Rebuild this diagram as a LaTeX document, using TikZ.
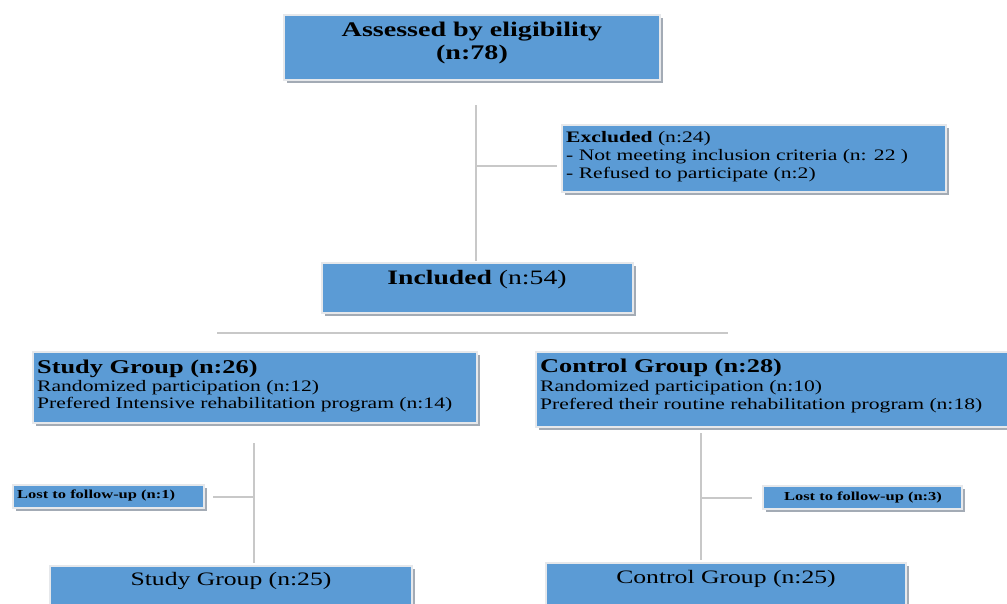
\documentclass[tikz,border=0pt]{standalone}
\usepackage{fontspec}
\setmainfont{Liberation Serif}[FakeStretch=1.35]
\usetikzlibrary{shadows}
\definecolor{boxblue}{HTML}{5B9BD5}
\definecolor{shadowgray}{HTML}{A3ABB5}
\definecolor{linegray}{HTML}{C8C8C8}
\definecolor{rimgray}{HTML}{E6E8EB}
\begin{document}
\begin{tikzpicture}[x=1pt,y=-1pt,
  bluebox/.style={rectangle, fill=boxblue, draw=rimgray, line width=1.5pt, inner sep=0pt,
     drop shadow={shadow xshift=3pt, shadow yshift=-3pt, fill=shadowgray, opacity=1}},
  txt/.style={inner sep=0pt, text=black},
  conn/.style={draw=linegray, line width=1.4pt}]
\useasboundingbox (0,0) rectangle (1007,603);
% boxes
\node[bluebox, minimum width=376pt, minimum height=65pt] (top) at (472,47.5) {};
\node[bluebox, minimum width=384pt, minimum height=67pt] (excl) at (754,158.5) {};
\node[bluebox, minimum width=311pt, minimum height=50pt] (incl) at (477.5,288) {};
\node[bluebox, minimum width=444pt, minimum height=71pt] (study) at (255,387.5) {};
\node[bluebox, minimum width=490pt, minimum height=75pt] (control) at (781,389.5) {};
\node[bluebox, minimum width=191pt, minimum height=23pt] (lost1) at (108.5,496.5) {};
\node[bluebox, minimum width=199pt, minimum height=23pt] (lost2) at (862.5,497.5) {};
\node[bluebox, minimum width=362pt, minimum height=60pt] (sg25) at (231,596) {};
\node[bluebox, minimum width=360pt, minimum height=60pt] (cg25) at (726,593) {};
% texts
\node[txt, anchor=base] (t1) at (472,36) {\fontsize{20.8}{22}\selectfont\bfseries Assessed by eligibility};
\node[txt, anchor=base] (t2) at (472,59) {\fontsize{20.8}{22}\selectfont\bfseries (n:78)};
\node[txt, anchor=base west] (e1) at (566,142) {\fontsize{16}{18}\selectfont\textbf{Excluded} (n:24)};
\node[txt, anchor=base west] (e2) at (566,160) {\fontsize{16}{18}\selectfont - Not meeting inclusion criteria (n: 22 )};
\node[txt, anchor=base west] (e3) at (566,178) {\fontsize{16}{18}\selectfont - Refused to participate (n:2)};
\node[txt, anchor=base] (i1) at (477,284) {\fontsize{20.5}{22}\selectfont\textbf{Included} (n:54)};
\node[txt, anchor=base west] (s1) at (37,373) {\fontsize{19.5}{21}\selectfont\bfseries Study Group (n:26)};
\node[txt, anchor=base west] (s2) at (37,391) {\fontsize{16}{18}\selectfont Randomized participation (n:12)};
\node[txt, anchor=base west] (s3) at (37,408) {\fontsize{16}{18}\selectfont Prefered Intensive rehabilitation program (n:14)};
\node[txt, anchor=base west] (c1) at (540,372) {\fontsize{19.5}{21}\selectfont\bfseries Control Group (n:28)};
\node[txt, anchor=base west] (c2) at (540,391) {\fontsize{16}{18}\selectfont Randomized participation (n:10)};
\node[txt, anchor=base west] (c3) at (540,409) {\fontsize{16}{18}\selectfont Prefered their routine rehabilitation program (n:18)};
\node[txt, anchor=base west] (l1) at (17,498) {\fontsize{12.2}{14}\selectfont\bfseries Lost to follow-up (n:1)};
\node[txt, anchor=base] (l2) at (863,500) {\fontsize{12.2}{14}\selectfont\bfseries Lost to follow-up (n:3)};
\node[txt, anchor=base] (g1) at (231,585) {\fontsize{19}{21}\selectfont Study Group (n:25)};
\node[txt, anchor=base] (g2) at (726,583) {\fontsize{19}{21}\selectfont Control Group (n:25)};
% connector coordinates
\coordinate (v1a) at (476,105);
\coordinate (v1b) at (476,261);
\coordinate (h1a) at (476,166);
\coordinate (h1b) at (557,166);
\coordinate (h2a) at (217,333);
\coordinate (h2b) at (728,333);
\coordinate (v2a) at (254,443);
\coordinate (v2b) at (254,563);
\coordinate (h3a) at (213,497);
\coordinate (h3b) at (254,497);
\coordinate (v3a) at (701,433);
\coordinate (v3b) at (701,560);
\coordinate (h4a) at (701,498);
\coordinate (h4b) at (752,498);
\draw[conn] (v1a) -- (v1b);
\draw[conn] (h1a) -- (h1b);
\draw[conn] (h2a) -- (h2b);
\draw[conn] (v2a) -- (v2b);
\draw[conn] (h3a) -- (h3b);
\draw[conn] (v3a) -- (v3b);
\draw[conn] (h4a) -- (h4b);
\end{tikzpicture}
\end{document}
